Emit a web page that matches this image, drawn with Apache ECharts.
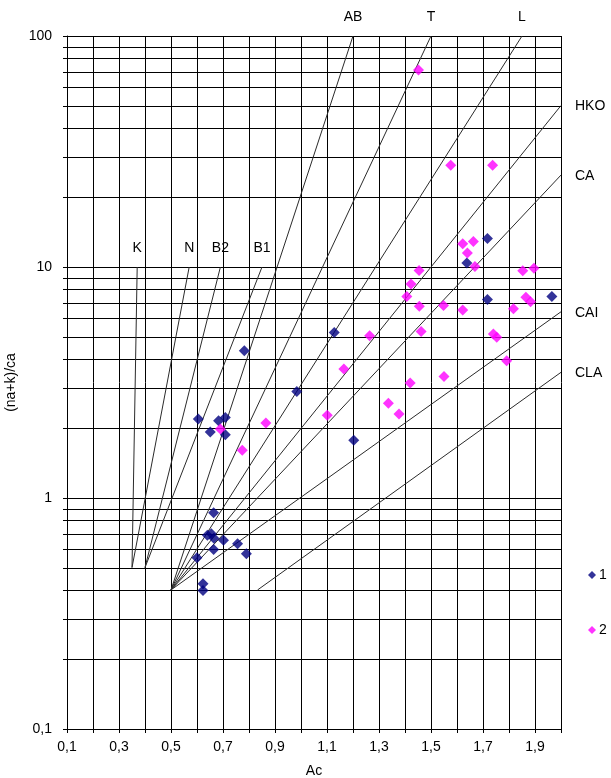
<!DOCTYPE html>
<html>
<head>
<meta charset="utf-8">
<script src="https://cdn.jsdelivr.net/npm/echarts@6/dist/echarts.min.js"></script>
<style>
html,body{margin:0;padding:0;background:#fff;}
#chart{width:611px;height:778px;}
</style>
</head>
<body>
<div id="chart"></div>
<script>
// Samples, group 1: [Ac, (na+k)/ca]
const group1 = [
  [0.605, 2.20], [0.651, 1.93], [0.683, 2.16], [0.709, 2.23], [0.709, 1.88],
  [0.782, 4.34], [0.984, 2.89], [1.128, 5.21], [1.203, 1.78], [1.638, 10.4],
  [1.717, 13.3], [1.717, 7.23], [1.965, 7.45], [0.664, 0.864], [0.640, 0.69],
  [0.655, 0.70], [0.665, 0.67], [0.702, 0.656], [0.664, 0.599], [0.756, 0.634],
  [0.790, 0.573], [0.600, 0.551], [0.623, 0.425], [0.623, 0.398]
];

// Samples, group 2: [Ac, (na+k)/ca]
const group2 = [
  [1.452, 71.2], [1.576, 27.6], [1.737, 27.6], [1.622, 12.6], [1.663, 12.9],
  [1.640, 11.5], [1.669, 10.05], [1.454, 9.66], [1.423, 8.45], [1.407, 7.45],
  [1.455, 6.76], [1.548, 6.81], [1.622, 6.52], [1.462, 5.26], [1.853, 9.64],
  [1.896, 9.88], [1.865, 7.40], [1.883, 7.08], [1.817, 6.59], [1.740, 5.13],
  [1.753, 4.96], [1.791, 3.93], [1.550, 3.36], [1.420, 3.15], [1.336, 2.57],
  [1.377, 2.31], [1.264, 5.04], [1.165, 3.62], [1.101, 2.28], [0.865, 2.11],
  [0.774, 1.61], [0.690, 1.99]
];

// Field boundaries: name, start point, end point
const guideNames = ['K', 'N', 'B2', 'B1', 'AB', 'T', 'L', 'HKO', 'CA', 'CAI', 'CLA'];
const guideStart = [
  [0.35, 0.5], [0.35, 0.5], [0.4, 0.5], [0.4, 0.5], [0.5, 0.4], [0.5, 0.4],
  [0.5, 0.4], [0.5, 0.4], [0.5, 0.4], [0.5, 0.4], [0.833, 0.4]
];
const guideEnd = [
  [0.37, 10], [0.57, 10], [0.69, 10], [0.85, 10], [1.2, 100], [1.5, 100],
  [1.85, 100], [2.0, 50], [2.0, 25], [2.0, 6.4], [2.0, 3.5]
];

// Axis ranges
const xMin = 0.1, xMax = 2.0, xStep = 0.1;
const yMin = 0.1, yMax = 100;
const yDecades = [0.1, 1, 10];
const yMultipliers = [1, 2, 3, 4, 5, 6, 7, 8, 9];

const yGridValues = [];
yDecades.forEach(d => yMultipliers.forEach(m => yGridValues.push(+(d * m).toPrecision(3))));
yGridValues.push(yMax);

const FONT_FAMILY = '"Liberation Sans", Arial, sans-serif';
const chart = echarts.init(document.getElementById('chart'), null, {renderer: 'canvas'});

const guideSeries = guideNames.map((name, i) => ({
  name: 'guide-' + name,
  type: 'line',
  data: [guideStart[i], guideEnd[i]],
  symbol: 'none',
  silent: true,
  animation: false,
  z: 3,
  lineStyle: {color: '#2a2a2a', width: 1}
}));

chart.setOption({
  animation: false,
  textStyle: {fontFamily: FONT_FAMILY},
  grid: {
    left: 67, top: 36, width: 494, height: 693,
    containLabel: false,
    outerBoundsMode: 'none'
  },
  legend: {
    data: ['1', '2'],
    orient: 'vertical',
    left: 588,
    top: 568,
    padding: 0,
    itemGap: 41,
    itemWidth: 8,
    itemHeight: 8,
    icon: 'diamond',
    textStyle: {fontSize: 14, color: '#000', fontFamily: FONT_FAMILY, padding: [0, 0, 0, -2]}
  },
  xAxis: {
    type: 'value',
    min: xMin,
    max: xMax,
    interval: xStep,
    name: 'Ac',
    nameLocation: 'middle',
    nameGap: 35,
    nameTextStyle: {fontSize: 14, color: '#000'},
    axisLine: {show: true, lineStyle: {color: '#000', width: 1}},
    axisTick: {show: true, length: 4, lineStyle: {color: '#000'}},
    axisLabel: {
      margin: 11,
      fontSize: 14,
      color: '#000',
      formatter: v => {
        const k = Math.round((v - xMin) / xStep);
        return k % 2 === 0 ? v.toFixed(1).replace('.', ',') : '';
      }
    },
    splitLine: {show: true, lineStyle: {color: '#000', width: 1}}
  },
  yAxis: {
    type: 'log',
    logBase: 10,
    min: yMin,
    max: yMax,
    name: '(na+k)/ca',
    nameLocation: 'middle',
    nameGap: 42,
    nameTextStyle: {fontSize: 14, color: '#000'},
    axisLine: {show: true, lineStyle: {color: '#000', width: 1}},
    axisTick: {show: false},
    axisLabel: {
      margin: 15,
      fontSize: 14,
      color: '#000',
      formatter: v => (v < 1 ? v.toFixed(1) : String(Math.round(v))).replace('.', ',')
    },
    splitLine: {show: false}
  },
  series: [
    {
      // horizontal grid at every log step, with short ticks left of the axis
      name: 'y-grid',
      type: 'custom',
      silent: true,
      clip: false,
      z: 1,
      data: yGridValues.map(v => [xMin, v]),
      renderItem: (params, api) => {
        const cs = params.coordSys;
        const y = Math.round(api.coord([xMin, api.value(1)])[1]) + 0.5;
        return {
          type: 'line',
          shape: {x1: cs.x - 4, y1: y, x2: cs.x + cs.width, y2: y},
          style: {stroke: '#000', lineWidth: 1}
        };
      }
    },
    ...guideSeries,
    {
      // field names: above the upper ends, or right of the ends on the border
      name: 'guide-labels',
      type: 'custom',
      silent: true,
      clip: false,
      z: 4,
      data: guideEnd,
      renderItem: (params, api) => {
        const p = api.coord([api.value(0), api.value(1)]);
        const onRight = api.value(0) >= xMax;
        return {
          type: 'text',
          x: onRight ? p[0] + 14 : p[0],
          y: onRight ? p[1] + 1 : p[1] - 12,
          style: {
            text: guideNames[params.dataIndex],
            fill: '#000',
            font: '14px ' + FONT_FAMILY,
            align: onRight ? 'left' : 'center',
            verticalAlign: onRight ? 'middle' : 'bottom'
          }
        };
      }
    },
    {
      name: '1',
      type: 'scatter',
      symbol: 'diamond',
      symbolSize: 11,
      z: 5,
      itemStyle: {color: '#000080'},
      data: group1
    },
    {
      name: '2',
      type: 'scatter',
      symbol: 'diamond',
      symbolSize: 11,
      z: 6,
      itemStyle: {color: '#ff00ff'},
      data: group2
    }
  ]
});
</script>
</body>
</html>
